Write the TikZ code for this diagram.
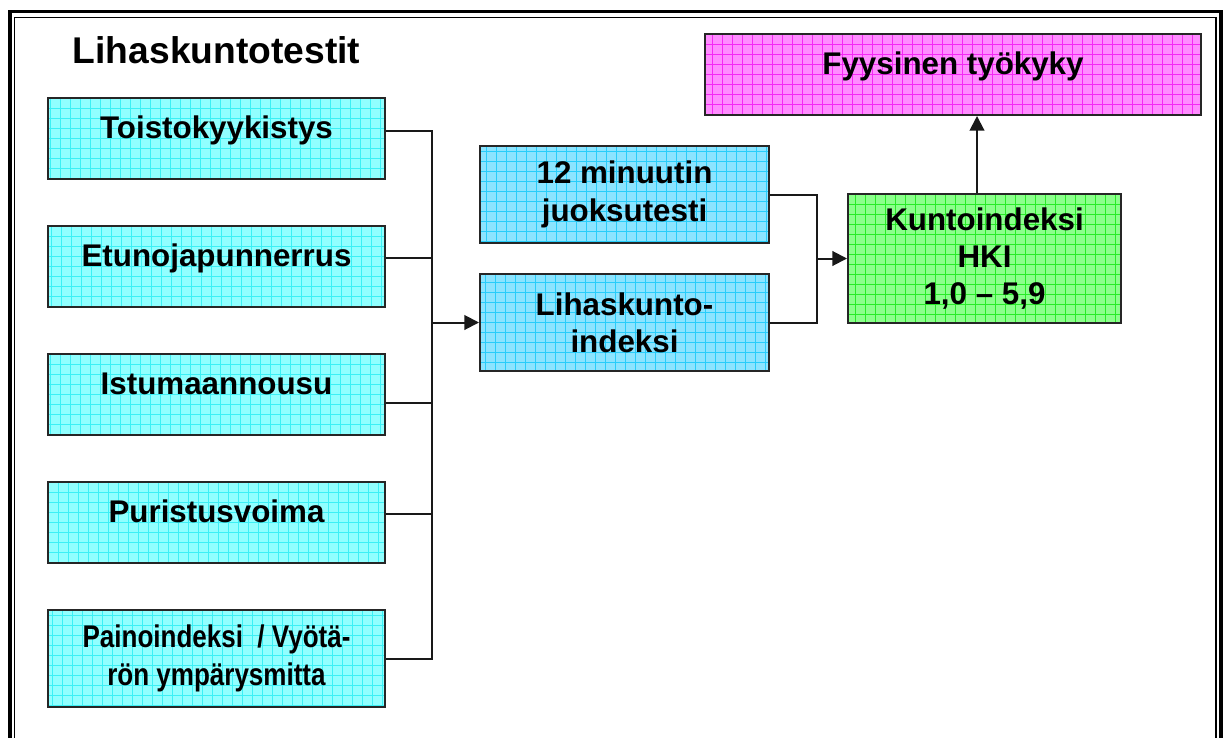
\documentclass[tikz,border=0pt]{standalone}
\usepackage{fontspec}
\setmainfont{Liberation Sans}
\newfontfamily\narrowsans[FakeStretch=0.83]{Liberation Sans}
\usetikzlibrary{arrows.meta,calc}
\tikzset{>={Triangle[length=11pt,width=11pt]}}
\definecolor{cyanfill}{RGB}{145,255,255}
\definecolor{cyangrid}{RGB}{60,240,245}
\definecolor{bluefill}{RGB}{140,228,255}
\definecolor{bluegrid}{RGB}{40,205,250}
\definecolor{greenfill}{RGB}{140,255,140}
\definecolor{greengrid}{RGB}{40,235,40}
\definecolor{pinkfill}{RGB}{255,140,255}
\definecolor{pinkgrid}{RGB}{245,40,245}
\tikzset{
  gridbox/.style 2 args={draw=black!85, line width=1.5pt, fill=#1, align=center,
    font=\fontsize{23.5}{28}\selectfont\bfseries,
    path picture={\draw[#2, line width=0.5pt, step=7.5pt] (path picture bounding box.south west) grid (path picture bounding box.north east);}},
  oneline/.style={text height=12pt, text depth=12pt},
  testbox/.style={gridbox={cyanfill}{cyangrid}, minimum width=252.75pt, minimum height=60.75pt},
  yhteys/.style={line width=1.5pt, black!90}
}

\begin{document}
\begin{tikzpicture}[x=0.75pt,y=-0.75pt]
  \useasboundingbox (0,0) rectangle (1230,738);
  % kehys
  \draw[line width=2.4pt] (10,760) |- (1221,11.8) -- (1221,760);
  \draw[line width=1.2pt] (14.3,760) |- (1216,17.5) -- (1216,760);

  \node[anchor=base] (otsikko) at (216.5,63.3) {\fontsize{27.9}{34}\selectfont\bfseries Lihaskuntotestit};

  \node[testbox, oneline] (toisto) at (216.5,138.5) {Toistokyykistys};
  \node[testbox, oneline] (etuno) at (216.5,266.5) {Etunojapunnerrus};
  \node[testbox, oneline] (istuma) at (216.5,394.5) {Istumaannousu};
  \node[testbox, oneline] (purist) at (216.5,522.5) {Puristusvoima};
  \node[testbox, minimum height=72.75pt, font=\fontsize{23.5}{28}\selectfont\narrowsans\bfseries] (paino) at (216.5,658.5) {Painoindeksi \ / Vyötä-\\rön ympärysmitta};

  \node[gridbox={bluefill}{bluegrid}, minimum width=216.75pt, minimum height=72.75pt] (minuutti) at (624.5,194.5) {12 minuutin\\juoksutesti};
  \node[gridbox={bluefill}{bluegrid}, minimum width=216.75pt, minimum height=72.75pt] (lihas) at (624.5,322.5) {Lihaskunto-\\indeksi};

  \node[gridbox={greenfill}{greengrid}, minimum width=204.75pt, minimum height=96.75pt] (kunto) at (984.5,258.5) {Kuntoindeksi\\HKI\\1,0 -- 5,9};
  \node[gridbox={pinkfill}{pinkgrid}, oneline, minimum width=372pt, minimum height=60.75pt] (fyys) at (953,74.5) {Fyysinen työkyky};

  % yhdysviivat
  \coordinate (jako) at (432,322.5);
  \draw[yhteys] ($(toisto.east)+(0,-7.5)$) -| (jako);
  \draw[yhteys] ($(etuno.east)+(0,-8.5)$) -| (jako);
  \draw[yhteys] ($(istuma.east)+(0,8)$) -| (jako);
  \draw[yhteys] ($(purist.east)+(0,-8.5)$) -| (jako);
  \draw[yhteys] (paino.east) -| (jako);
  \draw[yhteys,->] (jako) -- (lihas.west);

  \coordinate (yhd) at (817,258.5);
  \draw[yhteys] (minuutti.east) -| (yhd);
  \draw[yhteys] (lihas.east) -| (yhd);
  \draw[yhteys,->] (yhd) -- (kunto.west);

  \coordinate (nuoli) at ($(kunto.north)+(-7.5,0)$);
  \draw[yhteys,->] (nuoli) -- (nuoli |- fyys.south);
\end{tikzpicture}
\end{document}
